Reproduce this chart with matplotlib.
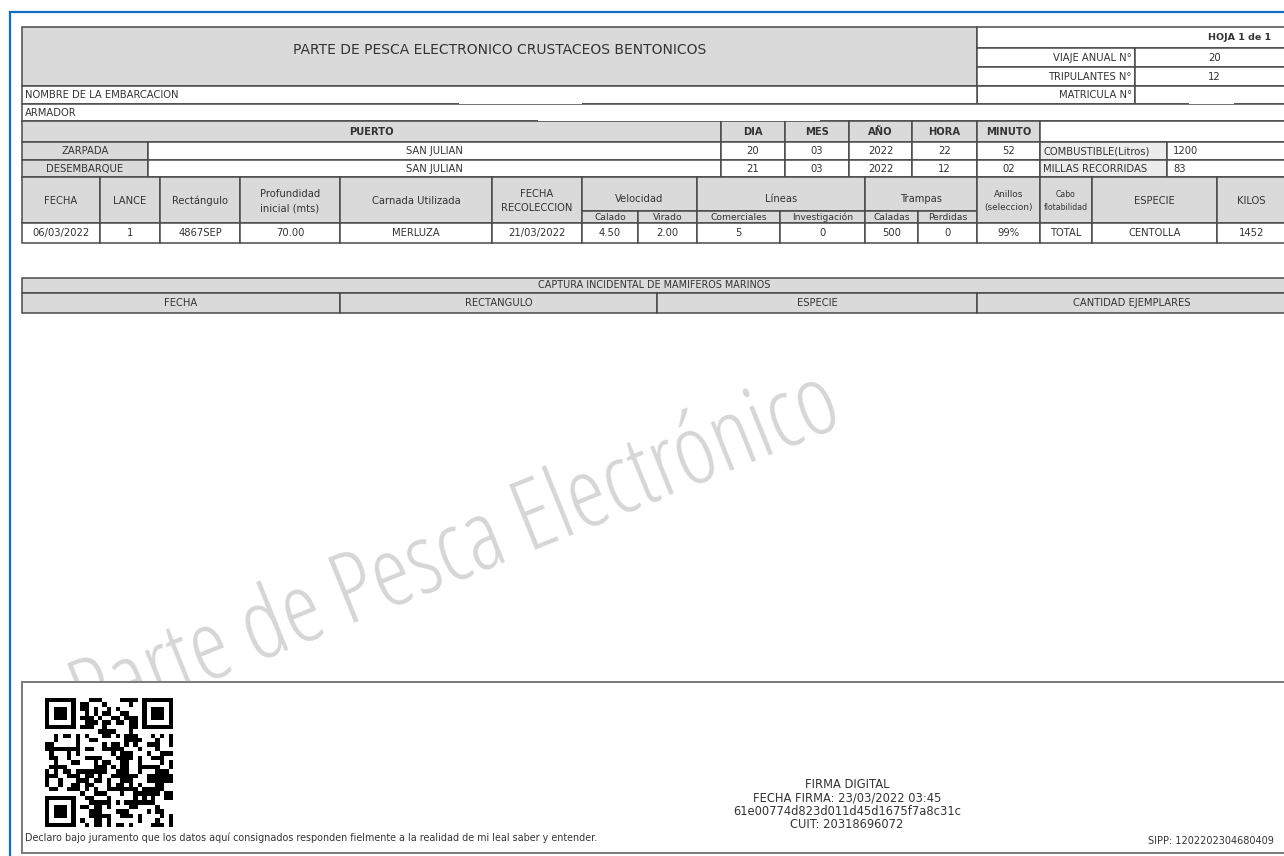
import os
import hashlib
import numpy as np
import matplotlib
matplotlib.use("Agg")
import matplotlib.pyplot as plt
from matplotlib.patches import Rectangle
from matplotlib import font_manager as fm

# ---------------- data ----------------
title = "PARTE DE PESCA ELECTRONICO CRUSTACEOS BENTONICOS"
sheet_label = "HOJA 1 de 1"
info_labels = ["VIAJE ANUAL N°", "TRIPULANTES N°", "MATRICULA N°"]
info_values = ["20", "12", ""]
vessel_labels = ["NOMBRE DE LA EMBARCACION", "ARMADOR"]
port_headers = ["PUERTO", "DIA", "MES", "AÑO", "HORA", "MINUTO"]
port_rows = ["ZARPADA", "DESEMBARQUE"]
port_names = ["SAN JULIAN", "SAN JULIAN"]
port_dates = [["20", "03", "2022", "22", "52"],
              ["21", "03", "2022", "12", "02"]]
extra_labels = ["COMBUSTIBLE(Litros)", "MILLAS RECORRIDAS"]
extra_values = ["1200", "83"]
catch_headers = ["FECHA", "LANCE", "Rectángulo", "Profundidad\ninicial (mts)",
                 "Carnada Utilizada", "FECHA\nRECOLECCION", "Velocidad", "Líneas",
                 "Trampas", "Anillos\n(seleccion)", "Cabo\nflotabilidad", "ESPECIE", "KILOS"]
catch_subheaders = ["Calado", "Virado", "Comerciales", "Investigación", "Caladas", "Perdidas"]
catch_values = ["06/03/2022", "1", "4867SEP", "70.00", "MERLUZA", "21/03/2022",
                "4.50", "2.00", "5", "0", "500", "0", "99%", "TOTAL", "CENTOLLA", "1452"]
incidental_title = "CAPTURA INCIDENTAL DE MAMIFEROS MARINOS"
incidental_headers = ["FECHA", "RECTANGULO", "ESPECIE", "CANTIDAD EJEMPLARES"]
signature_lines = ["FIRMA DIGITAL", "FECHA FIRMA: 23/03/2022 03:45",
                   "61e00774d823d011d45d1675f7a8c31c", "CUIT: 20318696072"]
declaration = ("Declaro bajo juramento que los datos aquí consignados responden "
               "fielmente a la realidad de mi leal saber y entender.")
sipp = "SIPP: 1202202304680409"
watermark = "Parte de Pesca Electrónico"

# ---------------- drawing ----------------
W, H = 1284, 856
fig = plt.figure(figsize=(W / 100, H / 100), dpi=100)
ax = fig.add_axes([0, 0, 1, 1])
ax.set_xlim(0, W)
ax.set_ylim(H, 0)
ax.axis("off")

GRAY = "#dadada"
LINE = "#4a4a4a"
TXT = "#333333"
FS = 7.2


def cell(x0, y0, x1, y1, fill="white", text=None, ha="center", fs=FS, pad=3,
         weight="normal", lw=1.1, z=2, ty=None):
    ax.add_patch(Rectangle((x0, y0), x1 - x0, y1 - y0, facecolor=fill,
                           edgecolor=LINE, lw=lw, zorder=z))
    if text is not None:
        if ha == "center":
            tx = (x0 + x1) / 2
        elif ha == "left":
            tx = x0 + pad
        else:
            tx = x1 - pad
        ax.text(tx, (y0 + y1) / 2 if ty is None else ty, text, ha=ha, va="center",
                fontsize=fs, color=TXT, weight=weight, zorder=z + 1, linespacing=1.6)


# pick a light, condensed face for the watermark if one is installed
def _weight(w):
    if isinstance(w, str):
        return fm.weight_dict.get(w, 400)
    return int(w)


best = None
for f in fm.fontManager.ttflist:
    fn = os.path.basename(f.fname).lower()
    if "italic" in fn or "oblique" in fn:
        continue
    if "opensans" in fn and "cond" in fn:
        pri = 0
    elif "extracondensed" in fn:
        pri = 1
    elif "condensed" in fn and "semi" not in fn:
        pri = 2
    elif "narrow" in fn or "cond" in fn:
        pri = 3
    else:
        continue
    key = (pri, abs(_weight(f.weight) - 330))
    if best is None or key < best[0]:
        best = (key, f.fname)
wm_font = fm.FontProperties(fname=best[1]) if best else fm.FontProperties(family="DejaVu Sans")

wm = ax.text(466, 578, watermark, ha="center", va="baseline", fontsize=100,
             color="#d6d6d6", zorder=1, rotation=0, rotation_mode="anchor",
             fontproperties=wm_font)
renderer = fig.canvas.get_renderer()
wlen = wm.get_window_extent(renderer).width
wm.set_fontsize(100 * 819 / wlen)
wm.set_rotation(22)

# blue frame
ax.plot([10, 10, W + 5], [H + 5, 12, 12], color="#0f6fc6", lw=1.6, zorder=10,
        solid_joinstyle="miter")

L, R = 22, W + 2
# title block
cell(L, 27, 977, 86, GRAY)
ax.text((L + 977) / 2, 50, title, ha="center", va="center", fontsize=10,
        color=TXT, zorder=5)
cell(977, 27, R, 48, "white")
ax.text(1271, 37.5, sheet_label, ha="right", va="center", fontsize=6.8,
        weight="bold", color=TXT, zorder=5)
ys = [48, 67, 86, 104]
for i in range(3):
    cell(977, ys[i], 1135, ys[i + 1], "white", info_labels[i], ha="right")
    cell(1135, ys[i], R, ys[i + 1], "white", info_values[i], ha="left", pad=73)
cell(L, 86, 977, 104, "white", vessel_labels[0], ha="left")
cell(L, 104, R, 121, "white", vessel_labels[1], ha="left")

# port block
px = [L, 721, 785, 849, 912, 977, 1040]
for i in range(6):
    cell(px[i], 121, px[i + 1], 142, GRAY, port_headers[i], weight="bold")
cell(1040, 121, R, 142, "white")
ry = [142, 160, 177]
for r in range(2):
    cell(L, ry[r], 148, ry[r + 1], GRAY, port_rows[r])
    cell(148, ry[r], 721, ry[r + 1], "white", port_names[r])
    for i in range(5):
        cell(px[i + 1], ry[r], px[i + 2], ry[r + 1], "white", port_dates[r][i])
    cell(1040, ry[r], 1167, ry[r + 1], "#ececec", extra_labels[r], ha="left")
    cell(1167, ry[r], R, ry[r + 1], "white", extra_values[r], ha="left", pad=6)

# catch table
top, mid, bot, dbot = 177, 211, 223, 243
cx = [L, 100, 160, 240, 340, 492, 582, 697, 865, 977, 1040, 1092, 1217, R]
sub_x = {6: [582, 638, 697], 7: [697, 780, 865], 8: [865, 918, 977]}
si = 0
for i, hdr in enumerate(catch_headers):
    if i in sub_x:
        cell(cx[i], top, cx[i + 1], mid, GRAY, hdr, ty=199)
        xs = sub_x[i]
        for k in range(2):
            cell(xs[k], mid, xs[k + 1], bot, GRAY, catch_subheaders[si], fs=6.6)
            si += 1
    else:
        w = cx[i + 1] - cx[i]
        fs = 5.6 if w < 55 else (6.4 if w < 70 and "\n" in hdr else FS)
        cell(cx[i], top, cx[i + 1], bot, GRAY, hdr, ty=201, fs=fs)
data_x = [L, 100, 160, 240, 340, 492, 582, 638, 697, 780, 865, 918, 977,
          1040, 1092, 1217, R]
for i, v in enumerate(catch_values):
    cell(data_x[i], bot, data_x[i + 1], dbot, "white", v)

# incidental capture table
ix = [L, 340, 657, 977, R]
cell(L, 278, R, 293, GRAY, incidental_title, fs=6.9)
for i in range(4):
    cell(ix[i], 293, ix[i + 1], 313, GRAY, incidental_headers[i])

# footer box (white, hides the watermark)
ax.add_patch(Rectangle((L, 682), R - L, 853 - 682, facecolor="white",
                       edgecolor="#7a7a7a", lw=1.4, zorder=3))

# QR code (deterministic pattern derived from the signature hash)
n = 29
bits = ""
seed = signature_lines[2].encode()
while len(bits) < n * n:
    seed = hashlib.sha256(seed).digest()
    bits += "".join(f"{b:08b}" for b in seed)
qr = np.array([int(b) for b in bits[:n * n]]).reshape(n, n)
for r0, c0 in [(0, 0), (0, n - 7), (n - 7, 0)]:
    qr[max(r0 - 1, 0):r0 + 8, max(c0 - 1, 0):c0 + 8] = 0
    qr[r0:r0 + 7, c0:c0 + 7] = 1
    qr[r0 + 1:r0 + 6, c0 + 1:c0 + 6] = 0
    qr[r0 + 2:r0 + 5, c0 + 2:c0 + 5] = 1
ax.imshow(1 - qr, cmap="gray", extent=(45, 173, 827, 698), interpolation="nearest",
          zorder=4, vmin=0, vmax=1)

ax.text(25, 838, declaration, ha="left", va="center", fontsize=6.9, color=TXT, zorder=5)
for k, s in enumerate(signature_lines):
    ax.text(847, 785 + k * 13.3, s, ha="center", va="center", fontsize=8.3,
            color=TXT, zorder=5)
ax.text(1274, 841, sipp, ha="right", va="center", fontsize=7.0, color=TXT, zorder=5)

# redactions
for (x0, y0, x1, y1) in [(459, 88, 582, 104), (538, 105, 820, 121), (1189, 88, 1234, 104)]:
    ax.add_patch(Rectangle((x0, y0), x1 - x0, y1 - y0, facecolor="white",
                           edgecolor="none", zorder=6))

fig.savefig("out.png", dpi=100)
